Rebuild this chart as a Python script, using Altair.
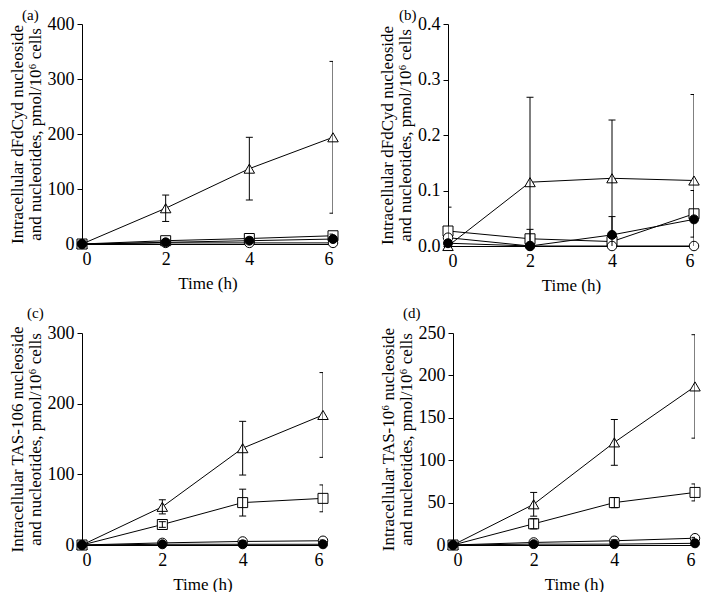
import altair as alt
import pandas as pd

times = [0, 2, 4, 6]
series_keys = ["tri", "sq", "oc", "fc"]
panel_labels = ["(a)", "(b)", "(c)", "(d)"]

# Panel (a)
a_tri = [0, 65, 137, 194]
a_tri_err = [0, 24, 57, 138]
a_sq = [0, 6, 10, 15]
a_sq_err = [0, 2, 2, 3]
a_oc = [0, 2, 2, 2]
a_oc_err = [0, 0, 0, 0]
a_fc = [0, 3, 6, 9]
a_fc_err = [0, 1, 2, 3]

# Panel (b)
b_tri = [0.0, 0.115, 0.122, 0.118]
b_tri_err = [0.0, 0.153, 0.105, 0.155]
b_sq = [0.027, 0.013, 0.008, 0.058]
b_sq_err = [0.043, 0.017, 0.0, 0.042]
b_oc = [0.015, 0.0, 0.0, 0.0]
b_oc_err = [0.0, 0.0, 0.0, 0.0]
b_fc = [0.005, 0.0, 0.02, 0.048]
b_fc_err = [0.0, 0.0, 0.033, 0.0]

# Panel (c)
c_tri = [0, 54, 137, 184]
c_tri_err = [0, 10, 38, 60]
c_sq = [0, 29, 60, 66]
c_sq_err = [0, 4, 19, 19]
c_oc = [0, 3, 5, 6]
c_oc_err = [0, 0, 1, 1]
c_fc = [0, 1, 1, 1]
c_fc_err = [0, 0, 0, 0]

# Panel (d)
d_tri = [0, 48, 121, 187]
d_tri_err = [0, 14, 27, 61]
d_sq = [0, 25, 50, 62]
d_sq_err = [0, 6, 6, 10]
d_oc = [0, 3, 5, 8]
d_oc_err = [0, 0, 1, 1]
d_fc = [0, 1, 1, 2]
d_fc_err = [0, 0, 0, 1]

FONT = "Liberation Serif"


def make_df(vals, errs):
    rows = []
    for key, v, e in zip(series_keys, vals, errs):
        for t, yv, ye in zip(times, v, e):
            rows.append({"series": key, "time": t, "value": yv, "err": ye,
                         "lo": yv - ye, "hi": yv + ye})
    return pd.DataFrame(rows)


def panel(df, ymax, yticks, yfmt, ytitle, label, w, h, lx, ly):
    base = alt.Chart(df)
    x = alt.X("time:Q", scale=alt.Scale(domain=[0, 6], nice=False, zero=False),
              axis=alt.Axis(values=times, title="Time (h)", ticks=False, grid=False,
                            labelPadding=6, titlePadding=7, labelAngle=0,
                            labelOverlap=False))
    y = alt.Y("value:Q", scale=alt.Scale(domain=[0, ymax], nice=False),
              axis=alt.Axis(values=yticks, format=yfmt, title=ytitle, grid=False,
                            tickSize=5, labelPadding=3, titlePadding=3,
                            titleLineHeight=18, labelOverlap=False))
    lines = base.mark_line(color="black", strokeWidth=1, clip=True).encode(
        x=x, y=y, detail="series:N", order="time:Q")
    pts = base.mark_point(filled=True, stroke="black", strokeWidth=1, opacity=1).encode(
        x="time:Q", y="value:Q",
        shape=alt.Shape("series:N", scale=alt.Scale(domain=series_keys,
                        range=["triangle-up", "square", "circle", "circle"]), legend=None),
        fill=alt.Fill("series:N", scale=alt.Scale(domain=series_keys,
                      range=["white", "white", "white", "black"]), legend=None),
        size=alt.Size("series:N", scale=alt.Scale(domain=series_keys,
                      range=[110, 80, 75, 75]), legend=None),
    )
    eb = base.transform_filter("datum.err > 0")
    rules = eb.mark_rule(color="black", strokeWidth=1, clip=True).encode(
        x="time:Q", y="lo:Q", y2="hi:Q")
    cap_hi = eb.mark_tick(orient="horizontal", size=7, thickness=1, color="black",
                          opacity=1, clip=True).encode(x="time:Q", y="hi:Q")
    cap_lo = eb.mark_tick(orient="horizontal", size=7, thickness=1, color="black",
                          opacity=1, clip=True).encode(x="time:Q", y="lo:Q")
    lab = alt.Chart(pd.DataFrame({"label": [label]})).mark_text(
        align="left", baseline="middle", font=FONT, fontSize=15, color="black"
    ).encode(text="label:N", x=alt.value(lx), y=alt.value(ly))
    return alt.layer(lines, pts, rules, cap_hi, cap_lo, lab).properties(
        width=w, height=h)


pa = panel(make_df([a_tri, a_sq, a_oc, a_fc], [a_tri_err, a_sq_err, a_oc_err, a_fc_err]),
           400, [0, 100, 200, 300, 400], "d",
           ["Intracellular dFdCyd nucleoside", "and nucleotides, pmol/10⁶ cells"],
           panel_labels[0], 251, 220, -60, -9)
pb = panel(make_df([b_tri, b_sq, b_oc, b_fc], [b_tri_err, b_sq_err, b_oc_err, b_fc_err]),
           0.4, [0.0, 0.1, 0.2, 0.3, 0.4], ".1f",
           ["Intracellular dFdCyd nucleoside", "and nucleotides, pmol/10⁶ cells"],
           panel_labels[1], 246, 222, -49, -9)
pc = panel(make_df([c_tri, c_sq, c_oc, c_fc], [c_tri_err, c_sq_err, c_oc_err, c_fc_err]),
           300, [0, 50, 100, 150, 200, 250, 300], "d",
           ["Intracellular TAS-106 nucleoside", "and nucleotides, pmol/10⁶ cells"],
           panel_labels[2], 241, 212, -55, -20)
pd_ = panel(make_df([d_tri, d_sq, d_oc, d_fc], [d_tri_err, d_sq_err, d_oc_err, d_fc_err]),
            250, [0, 50, 100, 150, 200, 250], "d",
            ["Intracellular TAS-10⁶ nucleoside", "and nucleotides, pmol/10⁶ cells"],
            panel_labels[3], 242, 212, -50, -20)

row1 = alt.hconcat(pa, pb, spacing=37).resolve_scale(x="independent", y="independent")
row2 = alt.hconcat(pc, pd_, spacing=48).resolve_scale(x="independent", y="independent")

chart = alt.vconcat(row1, row2, spacing=13).resolve_scale(
    x="independent", y="independent"
).properties(padding=0).configure_axis(
    labelFont=FONT, titleFont=FONT, labelFontSize=18, titleFontSize=17,
    labelColor="black", titleColor="black", domainColor="black", tickColor="black",
    titleFontWeight="normal", domainWidth=1, tickWidth=1
).configure_view(stroke=None).configure_title(font=FONT)

chart.save("out.html", embed_options={"renderer": "svg", "actions": False})
